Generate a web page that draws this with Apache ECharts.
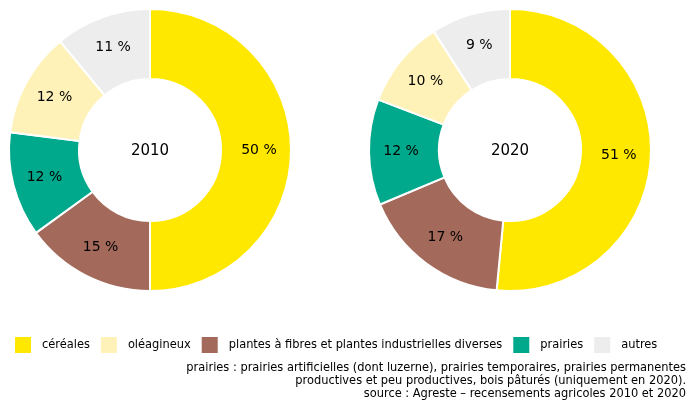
<!DOCTYPE html>
<html>
<head>
<meta charset="utf-8">
<script src="https://cdn.jsdelivr.net/npm/echarts@6/dist/echarts.min.js"></script>
<style>
  html, body { margin: 0; padding: 0; background: #fff; }
  #main { width: 690px; height: 401px; }
</style>
</head>
<body>
<div id="main"></div>
<script>
// catégories dans l'ordre des parts (sens horaire depuis midi)
var categories = ['céréales', 'plantes à fibres et plantes industrielles diverses', 'prairies', 'oléagineux', 'autres'];
// ordre de la légende
var legendOrder = ['céréales', 'oléagineux', 'plantes à fibres et plantes industrielles diverses', 'prairies', 'autres'];
var colors = ['#ffe800', '#a3695a', '#00a98c', '#fff2b8', '#ededed'];
var years = ['2010', '2020'];
var values2010 = [50, 15, 12, 12, 11];
var values2020 = [51, 17, 12, 10, 9];
var notes = [
  'prairies : prairies artificielles (dont luzerne), prairies temporaires, prairies permanentes',
  'productives et peu productives, bois pâturés (uniquement en 2020).',
  'source : Agreste – recensements agricoles 2010 et 2020'
];

(function () {
  var myChart = echarts.init(document.getElementById('main'));

  function buildData(vals) {
    return categories.map(function (name, i) {
      return { name: name, value: vals[i], itemStyle: { color: colors[i] } };
    });
  }

  function pieSeries(name, vals, cx) {
    return {
      name: name,
      type: 'pie',
      center: [cx, 150],
      radius: [71, 141],
      startAngle: 90,
      clockwise: true,
      avoidLabelOverlap: false,
      itemStyle: { borderColor: '#fff', borderWidth: 2 },
      label: {
        show: true,
        position: 'inside',
        formatter: '{c} %',
        color: '#000',
        fontFamily: 'DejaVu Sans',
        fontSize: 14
      },
      labelLine: { show: false },
      emphasis: { disabled: true },
      data: buildData(vals)
    };
  }

  // texte au centre des anneaux
  function centerText(txt, cx) {
    return {
      type: 'text', x: cx, y: 151,
      style: { text: txt, align: 'center', verticalAlign: 'middle', fill: '#000',
        font: '15px "DejaVu Sans"' }
    };
  }

  var option = {
    animation: false,
    legend: {
      data: legendOrder,
      left: 15,
      top: 337,
      padding: 0,
      itemWidth: 16,
      itemHeight: 16,
      itemGap: 11,
      icon: 'rect',
      selectedMode: false,
      itemStyle: { borderWidth: 0 },
      textStyle: { fontFamily: 'DejaVu Sans Condensed', fontSize: 12.7, color: '#000', padding: [0, 0, 0, 6] }
    },
    graphic: [
      centerText(years[0], 150),
      centerText(years[1], 510),
      {
        type: 'text', x: 686, y: 361,
        style: { text: notes.join('\n'), align: 'right', verticalAlign: 'top', fill: '#000',
          font: '12.7px "DejaVu Sans Condensed"', lineHeight: 13 }
      }
    ],
    series: [
      pieSeries(years[0], values2010, 150),
      pieSeries(years[1], values2020, 510)
    ]
  };

  myChart.setOption(option);
  window.addEventListener('resize', function () {
    myChart.resize();
  });
})();
</script>
</body>
</html>
